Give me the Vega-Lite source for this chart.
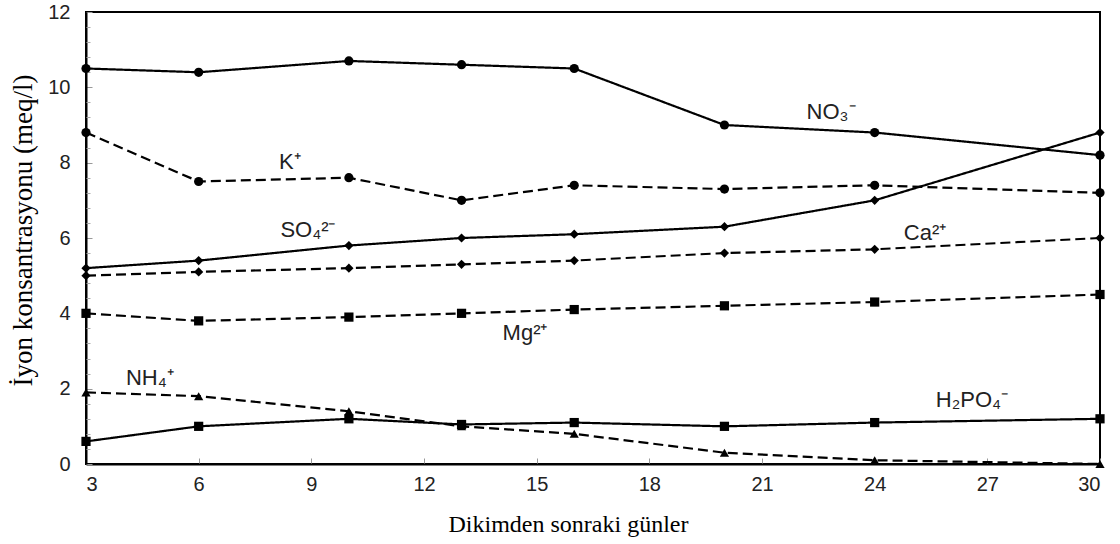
{
  "$schema": "https://vega.github.io/schema/vega-lite/v6.json",
  "width": 1014,
  "height": 452,
  "autosize": "none",
  "padding": {"left": 86, "top": 12, "right": 20, "bottom": 80},
  "background": "white",
  "config": {
    "view": {"stroke": "black", "strokeWidth": 2},
    "axis": {
      "grid": false,
      "domainColor": "black",
      "domainWidth": 2,
      "labelFont": "Liberation Sans",
      "labelFontSize": 20,
      "labelColor": "#222",
      "labelOverlap": false,
      "titleFont": "Liberation Serif",
      "titleFontWeight": "normal",
      "titleColor": "black",
      "tickColor": "#999",
      "tickSize": -6
    }
  },
  "resolve": {"axis": {"y": "independent"}},
  "datasets": {
    "ions": [
      {"ion": "NO3", "day": 3, "value": 10.5}, {"ion": "NO3", "day": 6, "value": 10.4}, {"ion": "NO3", "day": 10, "value": 10.7}, {"ion": "NO3", "day": 13, "value": 10.6}, {"ion": "NO3", "day": 16, "value": 10.5}, {"ion": "NO3", "day": 20, "value": 9.0}, {"ion": "NO3", "day": 24, "value": 8.8}, {"ion": "NO3", "day": 30, "value": 8.2},
      {"ion": "K", "day": 3, "value": 8.8}, {"ion": "K", "day": 6, "value": 7.5}, {"ion": "K", "day": 10, "value": 7.6}, {"ion": "K", "day": 13, "value": 7.0}, {"ion": "K", "day": 16, "value": 7.4}, {"ion": "K", "day": 20, "value": 7.3}, {"ion": "K", "day": 24, "value": 7.4}, {"ion": "K", "day": 30, "value": 7.2},
      {"ion": "SO4", "day": 3, "value": 5.2}, {"ion": "SO4", "day": 6, "value": 5.4}, {"ion": "SO4", "day": 10, "value": 5.8}, {"ion": "SO4", "day": 13, "value": 6.0}, {"ion": "SO4", "day": 16, "value": 6.1}, {"ion": "SO4", "day": 20, "value": 6.3}, {"ion": "SO4", "day": 24, "value": 7.0}, {"ion": "SO4", "day": 30, "value": 8.8},
      {"ion": "Ca", "day": 3, "value": 5.0}, {"ion": "Ca", "day": 6, "value": 5.1}, {"ion": "Ca", "day": 10, "value": 5.2}, {"ion": "Ca", "day": 13, "value": 5.3}, {"ion": "Ca", "day": 16, "value": 5.4}, {"ion": "Ca", "day": 20, "value": 5.6}, {"ion": "Ca", "day": 24, "value": 5.7}, {"ion": "Ca", "day": 30, "value": 6.0},
      {"ion": "Mg", "day": 3, "value": 4.0}, {"ion": "Mg", "day": 6, "value": 3.8}, {"ion": "Mg", "day": 10, "value": 3.9}, {"ion": "Mg", "day": 13, "value": 4.0}, {"ion": "Mg", "day": 16, "value": 4.1}, {"ion": "Mg", "day": 20, "value": 4.2}, {"ion": "Mg", "day": 24, "value": 4.3}, {"ion": "Mg", "day": 30, "value": 4.5},
      {"ion": "NH4", "day": 3, "value": 1.9}, {"ion": "NH4", "day": 6, "value": 1.8}, {"ion": "NH4", "day": 10, "value": 1.4}, {"ion": "NH4", "day": 13, "value": 1.0}, {"ion": "NH4", "day": 16, "value": 0.8}, {"ion": "NH4", "day": 20, "value": 0.3}, {"ion": "NH4", "day": 24, "value": 0.1}, {"ion": "NH4", "day": 30, "value": 0.0},
      {"ion": "H2PO4", "day": 3, "value": 0.6}, {"ion": "H2PO4", "day": 6, "value": 1.0}, {"ion": "H2PO4", "day": 10, "value": 1.2}, {"ion": "H2PO4", "day": 13, "value": 1.05}, {"ion": "H2PO4", "day": 16, "value": 1.1}, {"ion": "H2PO4", "day": 20, "value": 1.0}, {"ion": "H2PO4", "day": 24, "value": 1.1}, {"ion": "H2PO4", "day": 30, "value": 1.2}
    ],
    "labels": [
      {"text": "NO₃⁻", "day": 22.84, "value": 9.34},
      {"text": "K⁺", "day": 8.43, "value": 8.02},
      {"text": "SO₄²⁻", "day": 8.91, "value": 6.21},
      {"text": "Ca²⁺", "day": 25.34, "value": 6.13},
      {"text": "Mg²⁺", "day": 14.69, "value": 3.48},
      {"text": "NH₄⁺", "day": 4.7, "value": 2.28},
      {"text": "H₂PO₄⁻", "day": 26.59, "value": 1.7}
    ]
  },
  "layer": [
    {
      "data": {"name": "ions"},
      "mark": {"type": "line", "color": "black", "strokeWidth": 2.2},
      "encoding": {
        "x": {
          "field": "day", "type": "quantitative",
          "scale": {"domain": [3, 30], "nice": false, "zero": false},
          "axis": {
            "values": [3, 6, 9, 12, 15, 18, 21, 24, 27, 30],
            "labelPadding": 16,
            "title": "Dikimden sonraki günler",
            "titleFontSize": 24,
            "titleX": 482,
            "titleY": 67,
            "titleBaseline": "alphabetic"
          }
        },
        "y": {
          "field": "value", "type": "quantitative",
          "scale": {"domain": [0, 12], "nice": false},
          "axis": {
            "values": [0, 2, 4, 6, 8, 10, 12],
            "labelPadding": 22,
            "title": "İyon konsantrasyonu (meq/l)",
            "titleFontSize": 27,
            "titleX": -49,
            "titleY": 218
          }
        },
        "detail": {"field": "ion"},
        "strokeDash": {
          "field": "ion",
          "scale": {
            "domain": ["NO3", "K", "SO4", "Ca", "Mg", "NH4", "H2PO4"],
            "range": [[1, 0], [10, 5], [1, 0], [10, 5], [10, 5], [10, 5], [1, 0]]
          },
          "legend": null
        }
      }
    },
    {
      "data": {"name": "ions"},
      "mark": {"type": "point", "filled": true, "color": "black", "opacity": 1, "size": 85},
      "encoding": {
        "x": {"field": "day", "type": "quantitative"},
        "y": {
          "field": "value", "type": "quantitative",
          "axis": {
            "orient": "left",
            "values": [0.4, 0.8, 1.2, 1.6, 2.4, 2.8, 3.2, 3.6, 4.4, 4.8, 5.2, 5.6, 6.4, 6.8, 7.2, 7.6, 8.4, 8.8, 9.2, 9.6, 10.4, 10.8, 11.2, 11.6],
            "labels": false,
            "domain": false,
            "title": null,
            "tickSize": -4,
            "tickColor": "#aaa"
          }
        },
        "shape": {
          "field": "ion",
          "scale": {
            "domain": ["NO3", "K", "SO4", "Ca", "Mg", "NH4", "H2PO4"],
            "range": ["circle", "circle", "diamond", "diamond", "square", "triangle-up", "square"]
          },
          "legend": null
        }
      }
    },
    {
      "data": {"name": "labels"},
      "mark": {"type": "text", "font": "Liberation Sans", "fontSize": 22, "color": "#222", "align": "center", "baseline": "middle"},
      "encoding": {
        "x": {"field": "day", "type": "quantitative"},
        "y": {"field": "value", "type": "quantitative", "axis": null},
        "text": {"field": "text"}
      }
    }
  ]
}
